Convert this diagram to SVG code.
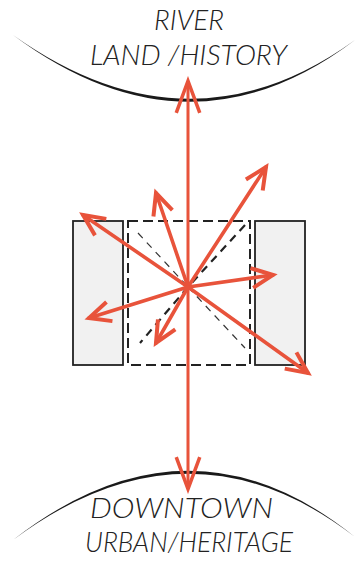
<svg xmlns="http://www.w3.org/2000/svg" width="355" height="562" viewBox="0 0 355 562">
<style>
.lbl{font-family:Lato,"Liberation Sans",sans-serif;font-style:italic;font-weight:300;fill:#222;font-size:27px}
.bld{fill:#f1f1f1;stroke:#222;stroke-width:1.8}
.dash{fill:none;stroke:#222;stroke-width:2;stroke-dasharray:10 5}
.diag{fill:none;stroke:#333;stroke-width:1.2;stroke-dasharray:7 6}
.diagb{fill:none;stroke:#222;stroke-width:2.2;stroke-dasharray:8 6}
.arr{stroke:#e8533b;stroke-width:3.6;fill:none;stroke-linecap:round;marker-end:url(#ah)}
.arrv{stroke:#e8533b;stroke-width:3;fill:none;marker-end:url(#ahl);marker-start:url(#ahls)}
</style>
<defs>
<marker id="ah" markerUnits="userSpaceOnUse" markerWidth="30" markerHeight="30" viewBox="-17 -10 21 20" refX="0" refY="0" orient="auto">
<path d="M-15,-7 L0,0 L-15,7" fill="none" stroke="#e8533b" stroke-width="2.8" stroke-linejoin="miter"/>
</marker>
<marker id="ahl" markerUnits="userSpaceOnUse" markerWidth="40" markerHeight="40" viewBox="-30 -15 34 30" refX="0" refY="0" orient="auto">
<path d="M-27,-10 L0,0 L-27,10" fill="none" stroke="#e8533b" stroke-width="3"/>
</marker>
<marker id="ahls" markerUnits="userSpaceOnUse" markerWidth="40" markerHeight="40" viewBox="-30 -15 34 30" refX="0" refY="0" orient="auto-start-reverse">
<path d="M-27,-10 L0,0 L-27,10" fill="none" stroke="#e8533b" stroke-width="3"/>
</marker>
</defs>
<g id="river">
<path d="M13,35 Q189,166 355,40 Q189,160 13,35 Z" fill="#1a1a1a"/>
<text class="lbl" x="189" y="30" text-anchor="middle" font-size="25" textLength="70" lengthAdjust="spacingAndGlyphs">RIVER</text>
<text class="lbl" x="90" y="65" textLength="197" lengthAdjust="spacingAndGlyphs">LAND /HISTORY</text>
</g>
<g id="downtown">
<path d="M13,540 Q189,403 355,537 Q189,409 13,540 Z" fill="#1a1a1a"/>
<text class="lbl" x="90" y="518" textLength="183" lengthAdjust="spacingAndGlyphs">DOWNTOWN</text>
<text class="lbl" x="85" y="552" textLength="208" lengthAdjust="spacingAndGlyphs">URBAN/HERITAGE</text>
</g>
<g id="left-building">
<rect class="bld" x="73" y="221" width="50" height="144"/>
</g>
<g id="right-building">
<rect class="bld" x="255" y="221" width="50" height="144"/>
</g>
<g id="site">
<rect class="dash" x="128" y="221" width="122" height="144"/>
<line class="diag" x1="138" y1="233" x2="188" y2="287"/>
<line class="diagb" x1="245" y1="225" x2="188" y2="287"/>
<line class="diagb" x1="188" y1="287" x2="140" y2="343"/>
<line class="diag" x1="188" y1="287" x2="245" y2="348"/>
</g>
<g id="connectors">
<line class="arrv" x1="188" y1="81" x2="188" y2="489"/>
<line class="arr" x1="188" y1="287" x2="83" y2="215"/>
<line class="arr" x1="188" y1="287" x2="156" y2="193"/>
<line class="arr" x1="188" y1="287" x2="266" y2="167"/>
<line class="arr" x1="188" y1="287" x2="273" y2="275"/>
<line class="arr" x1="188" y1="287" x2="308" y2="373"/>
<line class="arr" x1="188" y1="287" x2="89" y2="318"/>
<line class="arr" x1="188" y1="287" x2="156" y2="343"/>
</g>
</svg>
